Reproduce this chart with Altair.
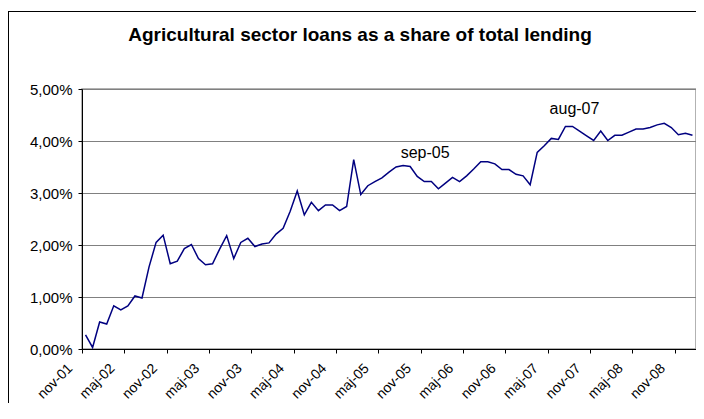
import altair as alt
import pandas as pd

month_names = ["jan", "feb", "mar", "apr", "maj", "jun", "jul", "aug", "sep", "okt", "nov", "dec"]
months = []
for k in range(87):
    m = (10 + k) % 12
    yr = 1 + (10 + k) // 12
    months.append(f"{month_names[m]}-{yr:02d}")

share = [
    0.27, 0.03, 0.52, 0.48, 0.83, 0.75, 0.83, 1.02, 0.98, 1.58, 2.05, 2.19,
    1.64, 1.69, 1.93, 2.01, 1.74, 1.62, 1.64, 1.92, 2.18, 1.74, 2.05, 2.13,
    1.97, 2.02, 2.04, 2.21, 2.32, 2.65, 3.04, 2.58, 2.82, 2.66, 2.77, 2.77,
    2.66, 2.74, 3.64, 2.97, 3.14, 3.22, 3.29, 3.40, 3.50, 3.53, 3.51, 3.32,
    3.22, 3.22, 3.08, 3.19, 3.30, 3.22, 3.33, 3.46, 3.60, 3.60, 3.56, 3.45,
    3.45, 3.36, 3.33, 3.16, 3.78, 3.91, 4.05, 4.03, 4.28, 4.28, 4.19, 4.10,
    4.01, 4.19, 4.01, 4.11, 4.11, 4.17, 4.23, 4.23, 4.26, 4.31, 4.34, 4.26,
    4.12, 4.15, 4.11,
]

tick_labels = months[::6]
y_ticks = [0, 1, 2, 3, 4, 5]
title_text = "Agricultural sector loans as a share of total lending"
annot_sep = "sep-05"
annot_aug = "aug-07"

FONT = "Liberation Sans"
PAD_L, PAD_T, PAD_B = 74, 81, 54
W, H = 614, 260
step = W / len(months)

df = pd.DataFrame({"month": months, "share": share})
one = pd.DataFrame({"a": [0]})

x_enc = alt.X(
    "month:O",
    sort=months,
    scale=alt.Scale(type="point", padding=0.5),
    axis=alt.Axis(
        values=tick_labels, title=None, labelAngle=-45, tickOffset=-step / 2,
        grid=False, domainColor="black", tickColor="black", tickSize=4,
        labelFont=FONT, labelFontSize=14, labelColor="black",
        labelPadding=8, labelOffset=-17,
    ),
)
y_enc = alt.Y(
    "share:Q",
    scale=alt.Scale(domain=[0, 5]),
    axis=alt.Axis(
        values=y_ticks, title=None, grid=True, gridColor="#808080",
        domainColor="black", tickColor="black", tickSize=4,
        labelFont=FONT, labelFontSize=15, labelColor="black", labelPadding=6,
        labelExpr="replace(format(datum.value, '.2f'), '.', ',') + '%'",
    ),
)

line = alt.Chart(df).mark_line(color="#000080", strokeWidth=1.5).encode(x=x_enc, y=y_enc)

lab_sep = alt.Chart(df).transform_filter(alt.datum.month == annot_sep).mark_text(
    font=FONT, fontSize=16, color="black", dy=-13, dx=15, baseline="middle"
).encode(x=alt.X("month:O", sort=months), y="share:Q", text="month:N")

lab_aug = alt.Chart(df).transform_filter(alt.datum.month == annot_aug).mark_text(
    font=FONT, fontSize=16, color="black", dy=-17, dx=2, baseline="middle"
).encode(x=alt.X("month:O", sort=months), y="share:Q", text="month:N")

title = alt.Chart(one).mark_text(
    font=FONT, fontSize=19, fontWeight="bold", color="black", baseline="alphabetic"
).encode(x=alt.value(278), y=alt.value(-48.5), text=alt.value(title_text))

frame_top = alt.Chart(one).mark_rule(color="black", strokeWidth=1).encode(
    x=alt.value(-PAD_L), x2=alt.value(W), y=alt.value(-77.5)
)
frame_left = alt.Chart(one).mark_rule(color="black", strokeWidth=1).encode(
    x=alt.value(-PAD_L + 0.5), y=alt.value(-78), y2=alt.value(H + PAD_B)
)

chart = alt.layer(line, lab_sep, lab_aug, title, frame_top, frame_left).properties(
    width=W, height=H,
    autosize=alt.AutoSizeParams(type="none"),
    padding={"left": PAD_L, "top": PAD_T, "right": 0, "bottom": PAD_B},
).configure_view(stroke="#999999", strokeWidth=1.5)

chart.save("out.html", embed_options={"renderer": "svg", "actions": False})
